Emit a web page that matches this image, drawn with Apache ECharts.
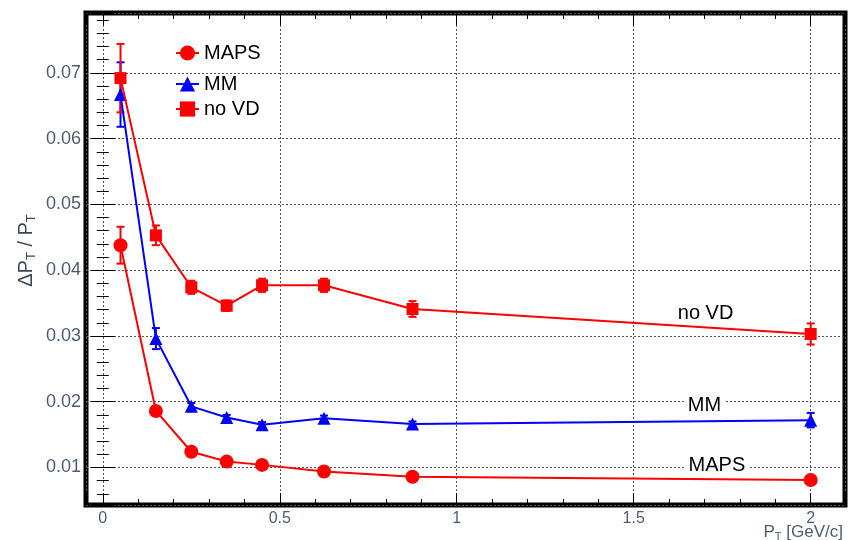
<!DOCTYPE html>
<html>
<head>
<meta charset="utf-8">
<script src="https://cdn.jsdelivr.net/npm/echarts@6/dist/echarts.min.js"></script>
<style>
  html, body { margin: 0; padding: 0; background: #ffffff; }
  #chart { width: 848px; height: 540px; }
</style>
</head>
<body>
<div id="chart"></div>
<script>
// Transverse momentum bins [GeV/c]
const ptValues = [0.05, 0.15, 0.25, 0.35, 0.45, 0.625, 0.875, 2.0];

// Relative pT resolution and its uncertainty per configuration
const mapsRes = [0.0438, 0.0186, 0.0124, 0.0109, 0.0104, 0.0094, 0.0086, 0.0081];
const mapsErr = [0.0028, 0.0005, 0.0003, 0.0003, 0.0003, 0.0003, 0.0003, 0.0004];

const mmRes = [0.0667, 0.0296, 0.0193, 0.0176, 0.0165, 0.0175, 0.0166, 0.0172];
const mmErr = [0.0049, 0.0016, 0.0005, 0.0004, 0.0004, 0.0004, 0.0004, 0.0011];

const noVdRes = [0.0692, 0.0453, 0.0374, 0.0346, 0.0377, 0.0377, 0.0341, 0.0303];
const noVdErr = [0.0052, 0.0015, 0.0010, 0.0008, 0.0010, 0.0010, 0.0012, 0.0016];

// Axis ranges
const xRange = [-0.0475, 2.097];
const yRange = [0.0043, 0.0791];

// Annotation text placed next to each curve, in data coordinates
const curveNotes = [
  { name: 'no VD', at: [1.703, 0.03347] },
  { name: 'MM', at: [1.70, 0.01947] },
  { name: 'MAPS', at: [1.735, 0.01035] }
];

const RED = '#ff0000';
const BLUE = '#0000ff';
const TICK_LABEL = '#4f5b74';

function pairs(xs, ys) {
  return xs.map((x, i) => [x, ys[i]]);
}
function errorRows(xs, ys, es) {
  return xs.map((x, i) => [x, ys[i] - es[i], ys[i] + es[i]]);
}

function errorBarRenderer(color) {
  return function (params, api) {
    const x = api.value(0);
    const top = api.coord([x, api.value(2)]);
    const bot = api.coord([x, api.value(1)]);
    const half = 4;
    const style = { stroke: color, lineWidth: 2 };
    return {
      type: 'group',
      children: [
        { type: 'line', shape: { x1: top[0], y1: top[1], x2: bot[0], y2: bot[1] }, style },
        { type: 'line', shape: { x1: top[0] - half, y1: top[1], x2: top[0] + half, y2: top[1] }, style },
        { type: 'line', shape: { x1: bot[0] - half, y1: bot[1], x2: bot[0] + half, y2: bot[1] }, style }
      ]
    };
  };
}

function noteFor(name) {
  const n = curveNotes.find(c => c.name === name);
  return {
    symbol: 'rect',
    symbolSize: 1,
    itemStyle: { color: 'rgba(0,0,0,0)' },
    silent: true,
    label: {
      show: true,
      position: 'inside',
      formatter: n.name,
      color: '#000',
      fontSize: 20,
      fontFamily: 'Liberation Sans, Arial, sans-serif',
      backgroundColor: '#ffffff',
      padding: [1, 4]
    },
    data: [{ coord: n.at }]
  };
}

const gridLine = { show: true, lineStyle: { color: '#555', type: [2, 2], width: 1 } };
const tickStyle = { show: true, inside: true, length: 12, lineStyle: { color: '#000', width: 1 } };
const minorStyle = { show: true, splitNumber: 5, length: 6, lineStyle: { color: '#000', width: 1 } };
const font = 'Liberation Sans, Arial, sans-serif';

const legendBase = {
  orient: 'vertical',
  left: 175,
  padding: 0,
  itemWidth: 23,
  itemHeight: 19,
  textStyle: { color: '#000', fontSize: 20, fontFamily: font },
  selectedMode: false
};

const option = {
  animation: false,
  backgroundColor: '#ffffff',
  grid: {
    left: 86, right: 3, top: 13, bottom: 35,
    containLabel: false,
    outerBoundsMode: 'none',
    show: true, borderColor: '#000', borderWidth: 5, backgroundColor: 'transparent'
  },
  legend: [
    Object.assign({}, legendBase, { top: 43, data: ['MAPS'] }),
    Object.assign({}, legendBase, { top: 74, data: ['MM'] }),
    Object.assign({}, legendBase, { top: 99, data: ['no VD'] })
  ],
  xAxis: [
    {
      type: 'value', position: 'bottom', min: xRange[0], max: xRange[1], splitNumber: 4,
      axisLine: { show: false },
      axisTick: tickStyle, minorTick: minorStyle, splitLine: gridLine,
      axisLabel: { color: TICK_LABEL, fontSize: 16, fontFamily: font, margin: 6, showMinLabel: false, showMaxLabel: false },
      name: '{m|P}{s|T}{m| [GeV/c]}',
      nameLocation: 'end',
      nameGap: 0,
      nameMoveOverlap: false,
      nameTextStyle: {
        align: 'right', verticalAlign: 'top', padding: [17, 2, 0, 0], color: TICK_LABEL,
        rich: {
          m: { fontSize: 17, fontFamily: font, color: TICK_LABEL, lineHeight: 20 },
          s: { fontSize: 11, fontFamily: font, color: TICK_LABEL, lineHeight: 10, verticalAlign: 'bottom' }
        }
      }
    },
    {
      type: 'value', position: 'top', min: xRange[0], max: xRange[1], splitNumber: 4,
      axisLine: { show: false }, axisTick: tickStyle, minorTick: minorStyle,
      splitLine: { show: false }, axisLabel: { show: false }
    }
  ],
  yAxis: [
    {
      type: 'value', position: 'left', min: yRange[0], max: yRange[1], splitNumber: 7,
      axisLine: { show: false },
      axisTick: tickStyle, minorTick: minorStyle, splitLine: gridLine,
      axisLabel: { color: TICK_LABEL, fontSize: 18, fontFamily: font, margin: 5, showMinLabel: false, showMaxLabel: false },
      name: '{m|ΔP}{s|T}{m| / P}{s|T}',
      nameLocation: 'middle',
      nameRotate: 90,
      nameGap: 48,
      nameMoveOverlap: false,
      nameTextStyle: {
        padding: [0, 0, 0, 17],
        rich: {
          m: { fontSize: 20, fontFamily: font, color: '#3d4556', lineHeight: 24 },
          s: { fontSize: 13, fontFamily: font, color: '#3d4556', lineHeight: 11, verticalAlign: 'bottom' }
        }
      }
    },
    {
      type: 'value', position: 'right', min: yRange[0], max: yRange[1], splitNumber: 7,
      axisLine: { show: false }, axisTick: tickStyle, minorTick: minorStyle,
      splitLine: { show: false }, axisLabel: { show: false }
    }
  ],
  series: [
    {
      name: 'MAPS err', type: 'custom', renderItem: errorBarRenderer(RED),
      encode: { x: 0, y: [1, 2] }, data: errorRows(ptValues, mapsRes, mapsErr), z: 3
    },
    {
      name: 'MM err', type: 'custom', renderItem: errorBarRenderer(BLUE),
      encode: { x: 0, y: [1, 2] }, data: errorRows(ptValues, mmRes, mmErr), z: 3
    },
    {
      name: 'no VD err', type: 'custom', renderItem: errorBarRenderer(RED),
      encode: { x: 0, y: [1, 2] }, data: errorRows(ptValues, noVdRes, noVdErr), z: 4
    },
    {
      name: 'MAPS', type: 'line', data: pairs(ptValues, mapsRes),
      symbol: 'circle', symbolSize: 14, color: RED,
      lineStyle: { width: 2, color: RED }, itemStyle: { color: RED }, z: 5,
      markPoint: noteFor('MAPS')
    },
    {
      name: 'MM', type: 'line', data: pairs(ptValues, mmRes),
      symbol: 'triangle', symbolSize: 13, color: BLUE,
      lineStyle: { width: 2, color: BLUE }, itemStyle: { color: BLUE }, z: 5,
      markPoint: noteFor('MM')
    },
    {
      name: 'no VD', type: 'line', data: pairs(ptValues, noVdRes),
      symbol: 'rect', symbolSize: 12, color: RED,
      lineStyle: { width: 2, color: RED }, itemStyle: { color: RED }, z: 6,
      markPoint: noteFor('no VD')
    }
  ]
};

const chart = echarts.init(document.getElementById('chart'), null, { renderer: 'canvas' });
chart.setOption(option);
</script>
</body>
</html>
